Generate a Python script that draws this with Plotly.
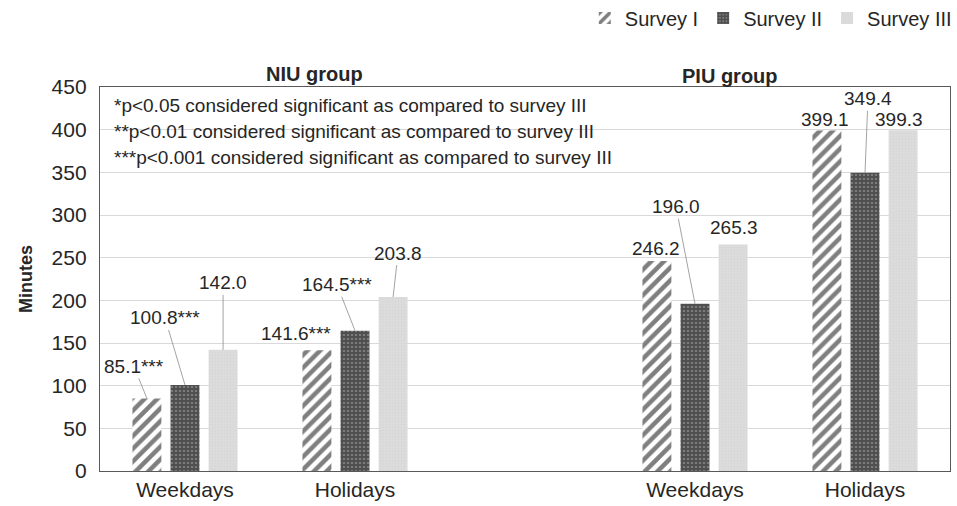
import plotly.graph_objects as go

# ---- data -------------------------------------------------------------
groups = ["NIU group", "PIU group"]
days = ["Weekdays", "Holidays"]
series_names = ["Survey I", "Survey II", "Survey III"]

survey_1 = [85.1, 141.6, 246.2, 399.1]
survey_2 = [100.8, 164.5, 196.0, 349.4]
survey_3 = [142.0, 203.8, 265.3, 399.3]

# significance marks vs. survey III
sig_1 = ["***", "***", "", ""]
sig_2 = ["***", "***", "", ""]
sig_3 = ["", "", "", ""]

notes = [
    "*p<0.05 considered significant as compared to survey III",
    "**p<0.01 considered significant as compared to survey III",
    "***p<0.001 considered significant as compared to survey III",
]

# ---- styling ----------------------------------------------------------
FONT = "Liberation Sans, Arial, sans-serif"
TEXT = "#262626"
BAR_W = 0.17     # bar width in category units
PITCH = 0.224    # distance between bar centres within a group

patterns = [
    dict(shape="/", fgcolor="#000000", bgcolor="white", size=9, solidity=0.5),
    dict(shape="+", fgcolor="#222222", bgcolor="#7c7c7c", size=4, solidity=0.72),
    dict(shape=".", fgcolor="#cfcfcf", bgcolor="#dcdcdc", size=3, solidity=0.3),
]

# label placement: (dx, dy) of the text centre from the bar top in px,
# and whether a leader line is drawn
label_offsets = [
    [(-13, -32, True), (-21, -17, False), (-1, -12, False), (-2, -11, False)],
    [(-20, -67, True), (-18, -46, True), (-19, -97, True), (3, -74, True)],
    [(0, -67, True), (5, -44, True), (1, -17, False), (-4, -11, False)],
]

# category slots: two days per group, one empty slot between groups
positions = [g * (len(days) + 1) + d for g in range(len(groups)) for d in range(len(days))]
tick_text = [d for _ in groups for d in days]

values = [survey_1, survey_2, survey_3]
marks = [sig_1, sig_2, sig_3]

fig = go.Figure()
annotations = []
for i, (name, vals) in enumerate(zip(series_names, values)):
    offset = (i - 1) * PITCH - BAR_W / 2
    fig.add_trace(go.Bar(
        name=name,
        x=positions,
        y=vals,
        width=BAR_W,
        offset=offset,
        marker=dict(color=patterns[i]["bgcolor"], line=dict(width=0), pattern=patterns[i]),
        hoverinfo="skip",
    ))
    for j, v in enumerate(vals):
        dx, dy, leader = label_offsets[i][j]
        annotations.append(dict(
            x=positions[j] + offset + BAR_W / 2, y=v, xref="x", yref="y",
            text=f"{v:.1f}{marks[i][j]}",
            showarrow=True, ax=dx, ay=dy, arrowhead=0, standoff=0,
            arrowwidth=0.8,
            arrowcolor="#8c8c8c" if leader else "rgba(0,0,0,0)",
            font=dict(family=FONT, size=19, color=TEXT),
        ))

# group titles
annotations.append(dict(x=0.193, y=1.068, xref="paper", yref="paper", text="<b>NIU group</b>",
                        showarrow=False, font=dict(family=FONT, size=20, color=TEXT)))
annotations.append(dict(x=0.80, y=1.0625, xref="paper", yref="paper", text="<b>PIU group</b>",
                        showarrow=False, font=dict(family=FONT, size=20, color=TEXT)))

# significance notes, one line each
for k, line in enumerate(notes):
    annotations.append(dict(
        x=0.014, y=0.953 - k * 0.0685, xref="paper", yref="paper", text=line,
        xanchor="left", yanchor="middle", align="left", showarrow=False,
        font=dict(family=FONT, size=19, color=TEXT),
    ))

fig.update_layout(
    width=957, height=506,
    margin=dict(l=100, r=7, t=87, b=35, autoexpand=False),
    paper_bgcolor="white", plot_bgcolor="white",
    barmode="overlay",
    font=dict(family=FONT, color=TEXT),
    showlegend=True,
    legend=dict(
        orientation="h", x=1.008, xanchor="right", y=1.18, yanchor="middle",
        font=dict(family=FONT, size=20, color=TEXT), bgcolor="rgba(0,0,0,0)",
    ),
    annotations=annotations,
    xaxis=dict(
        range=[-0.5, 4.5], tickvals=positions, ticktext=tick_text,
        showgrid=False, zeroline=False, ticks="",
        showline=True, mirror=True, linecolor="#595959", linewidth=1.3,
        tickfont=dict(family=FONT, size=21, color=TEXT),
    ),
    yaxis=dict(
        range=[0, 450], dtick=50, ticks="",
        showgrid=True, gridcolor="#d9d9d9", gridwidth=1, zeroline=False,
        showline=True, mirror=True, linecolor="#595959", linewidth=1.3,
        tickfont=dict(family=FONT, size=21, color=TEXT),
        ticklabelstandoff=8,
        title=dict(text="<b>Minutes</b>", font=dict(family=FONT, size=18, color=TEXT), standoff=14),
    ),
)

fig.write_html("out.html")
